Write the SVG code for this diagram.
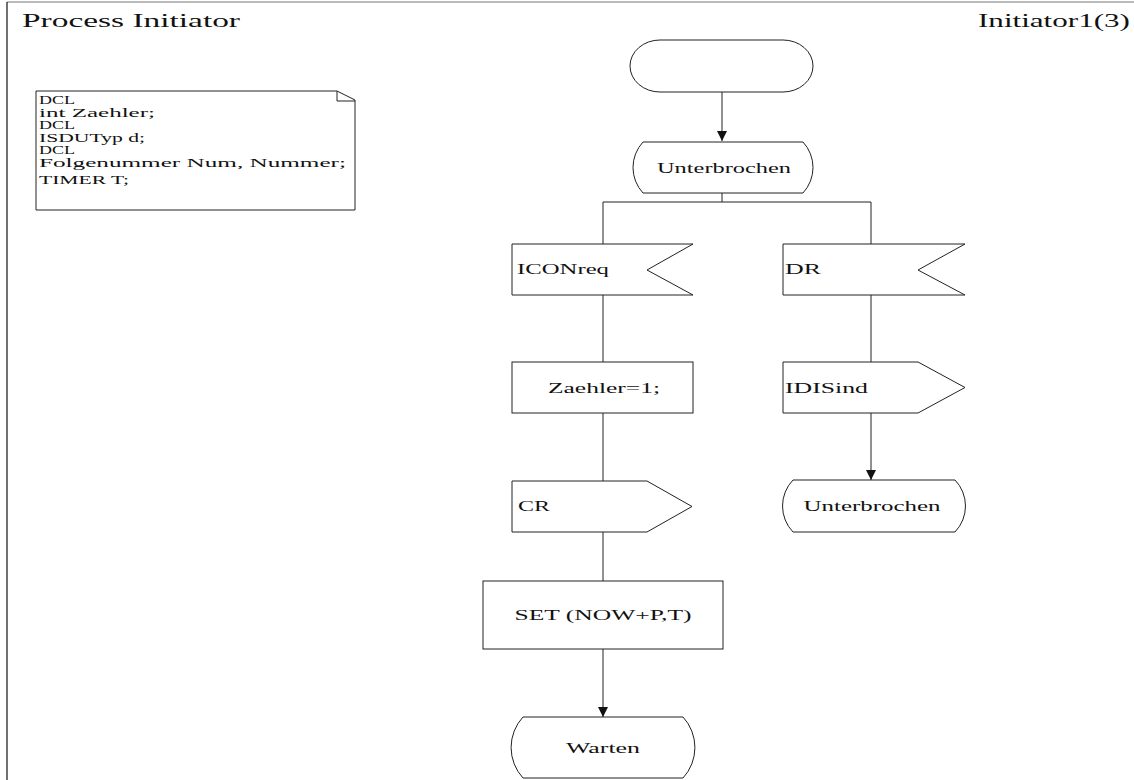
<svg xmlns="http://www.w3.org/2000/svg" width="1134" height="780" viewBox="0 0 1134 780">
  <defs>
    <marker id="arrow" viewBox="0 0 10 10" refX="10" refY="5" markerWidth="10" markerHeight="10" markerUnits="userSpaceOnUse" orient="auto">
      <path d="M0,0 L10,5 L0,10 Z" fill="#111"/>
    </marker>
    <style>
      .shape { fill: #fff; stroke: #222; stroke-width: 1; }
      .line { fill: none; stroke: #222; stroke-width: 1; }
      .lbl { font-family: "Liberation Serif", "Times New Roman", serif; font-size: 15px; fill: #111; }
      .mid { text-anchor: middle; }
      .decl { font-family: "Liberation Serif", "Times New Roman", serif; font-size: 12.5px; fill: #111; }
      .head { font-family: "Liberation Serif", "Times New Roman", serif; font-size: 18px; fill: #111; }
    </style>
  </defs>
  <rect x="0" y="0" width="1134" height="780" fill="#fff"/>

  <!-- page frame -->
  <g id="frame">
    <line x1="7" y1="2" x2="1134" y2="2" stroke="#777" stroke-width="1"/>
    <line x1="7" y1="2" x2="7" y2="780" stroke="#111" stroke-width="1.2"/>
    <text class="head" x="22" y="27" textLength="218" lengthAdjust="spacingAndGlyphs">Process Initiator</text>
    <text class="head" x="978" y="27" textLength="152" lengthAdjust="spacingAndGlyphs">Initiator1(3)</text>
  </g>

  <!-- declarations text symbol -->
  <g id="declarations">
    <path class="shape" d="M36,91 H337 L355,100 V210 H36 Z"/>
    <path class="line" d="M337,91 V101 H355"/>
    <text class="decl" x="39" y="104" textLength="36" lengthAdjust="spacingAndGlyphs">DCL</text>
    <text class="decl" x="39" y="116.5" textLength="116" lengthAdjust="spacingAndGlyphs">int Zaehler;</text>
    <text class="decl" x="39" y="129" textLength="36" lengthAdjust="spacingAndGlyphs">DCL</text>
    <text class="decl" x="39" y="141.5" textLength="106" lengthAdjust="spacingAndGlyphs">ISDUTyp d;</text>
    <text class="decl" x="39" y="154" textLength="36" lengthAdjust="spacingAndGlyphs">DCL</text>
    <text class="decl" x="39" y="166.5" textLength="307" lengthAdjust="spacingAndGlyphs">Folgenummer Num, Nummer;</text>
    <text class="decl" x="39" y="183.5" textLength="90" lengthAdjust="spacingAndGlyphs">TIMER T;</text>
  </g>

  <!-- connectors -->
  <g id="connectors">
    <line class="line" x1="722" y1="92" x2="722" y2="141" marker-end="url(#arrow)"/>
    <path class="line" d="M722,193 V202 M603,202 H871 M603,202 V244 M871,202 V244"/>
    <line class="line" x1="603" y1="295" x2="603" y2="362"/>
    <line class="line" x1="603" y1="413" x2="603" y2="481"/>
    <line class="line" x1="603" y1="532" x2="603" y2="581"/>
    <line class="line" x1="603" y1="649" x2="603" y2="717" marker-end="url(#arrow)"/>
    <line class="line" x1="871" y1="295" x2="871" y2="362"/>
    <line class="line" x1="871" y1="413" x2="871" y2="480" marker-end="url(#arrow)"/>
  </g>

  <!-- start symbol -->
  <g id="start">
    <rect class="shape" x="630" y="40" width="183" height="52" rx="30" ry="26"/>
  </g>

  <!-- state Unterbrochen (top) -->
  <g id="state-unterbrochen-1">
    <path class="shape" d="M643,142 H803 A37.5,37.5 0 0 1 803,193 H643 A37.5,37.5 0 0 1 643,142 Z"/>
    <text class="lbl mid" x="724" y="173" textLength="134" lengthAdjust="spacingAndGlyphs">Unterbrochen</text>
  </g>

  <!-- input ICONreq -->
  <g id="input-iconreq">
    <path class="shape" d="M512,244 H693 L647,270 L693,295 H512 Z"/>
    <text class="lbl" x="517" y="274" textLength="92" lengthAdjust="spacingAndGlyphs">ICONreq</text>
  </g>

  <!-- input DR -->
  <g id="input-dr">
    <path class="shape" d="M783,244 H965 L918,270 L965,295 H783 Z"/>
    <text class="lbl" x="785" y="274" textLength="36" lengthAdjust="spacingAndGlyphs">DR</text>
  </g>

  <!-- task Zaehler=1; -->
  <g id="task-zaehler">
    <rect class="shape" x="512" y="362" width="181" height="51"/>
    <text class="lbl mid" x="604" y="393" textLength="112" lengthAdjust="spacingAndGlyphs">Zaehler=1;</text>
  </g>

  <!-- output IDISind -->
  <g id="output-idisind">
    <path class="shape" d="M783,362 H918 L965,387.5 L918,413 H783 Z"/>
    <text class="lbl" x="785" y="393" textLength="83" lengthAdjust="spacingAndGlyphs">IDISind</text>
  </g>

  <!-- output CR -->
  <g id="output-cr">
    <path class="shape" d="M512,481 H647 L692,506.5 L647,532 H512 Z"/>
    <text class="lbl" x="518" y="511" textLength="32" lengthAdjust="spacingAndGlyphs">CR</text>
  </g>

  <!-- state Unterbrochen (right branch) -->
  <g id="state-unterbrochen-2">
    <path class="shape" d="M793,480 H955 A37.5,37.5 0 0 1 955,532 H793 A37.5,37.5 0 0 1 793,480 Z"/>
    <text class="lbl mid" x="872" y="511" textLength="137" lengthAdjust="spacingAndGlyphs">Unterbrochen</text>
  </g>

  <!-- task SET -->
  <g id="task-set">
    <rect class="shape" x="483" y="581" width="240" height="68"/>
    <text class="lbl mid" x="603" y="620" textLength="177" lengthAdjust="spacingAndGlyphs">SET (NOW+P,T)</text>
  </g>

  <!-- state Warten -->
  <g id="state-warten">
    <path class="shape" d="M523,717 H683 A45,45 0 0 1 683,778 H523 A45,45 0 0 1 523,717 Z"/>
    <text class="lbl mid" x="603" y="753" textLength="74" lengthAdjust="spacingAndGlyphs">Warten</text>
  </g>
</svg>
